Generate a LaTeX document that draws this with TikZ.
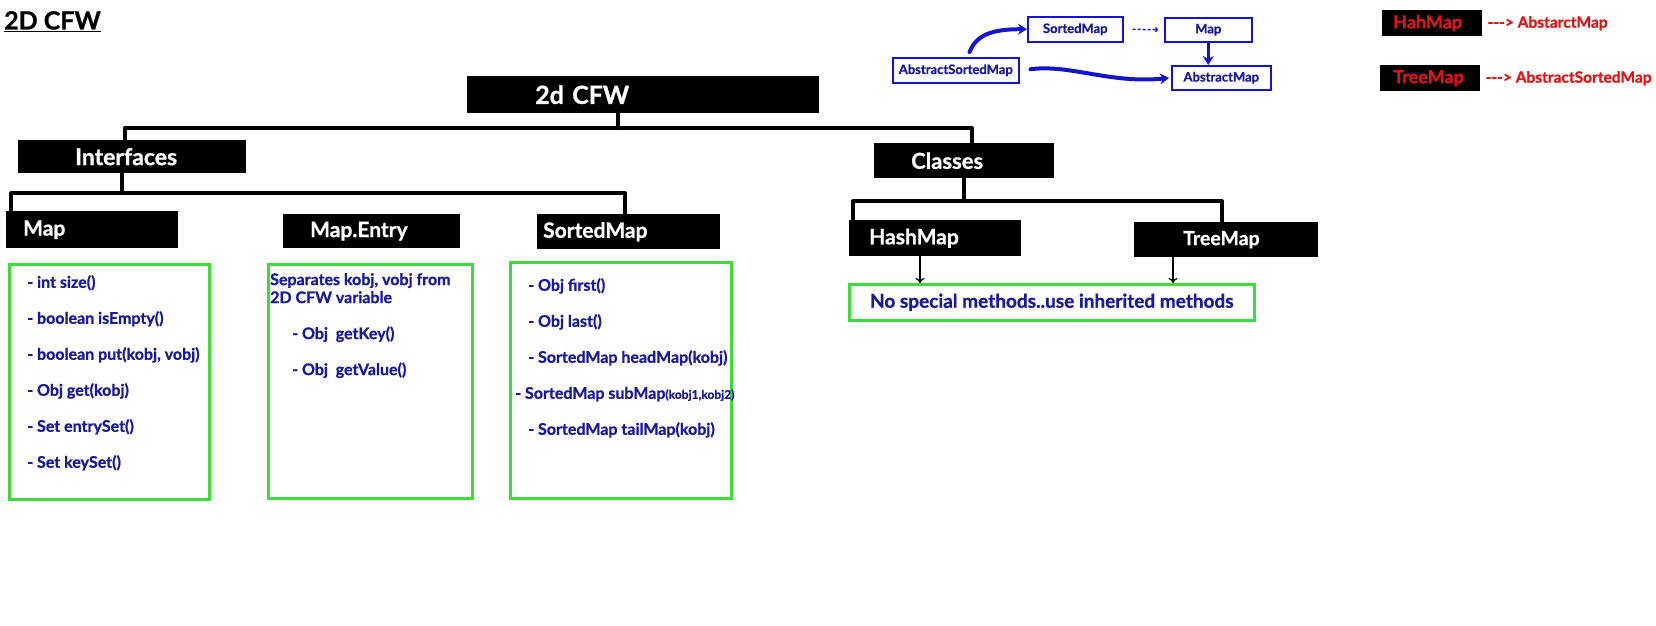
\documentclass[tikz,border=0pt]{standalone}
\usepackage{fontspec}
\setmainfont{Lato}[BoldFeatures={FakeBold=1}]
\usepackage{tikz}
\usetikzlibrary{arrows.meta,positioning,calc}
\definecolor{ink}{HTML}{1A1A9E}
\definecolor{frame}{HTML}{3CDC3C}
\definecolor{pen}{HTML}{1414CC}
\definecolor{warn}{HTML}{E01414}
\newcommand{\fs}[1]{\fontsize{#1}{#1}\selectfont}

\begin{document}
\begin{tikzpicture}[x=1pt, y=-1pt,
  blk/.style={fill=black, text=white, font=\bfseries\fs{21}, anchor=north west,
              inner ysep=0pt, align=left},
  methbox/.style={draw=frame, line width=2.5pt, anchor=north west, inner sep=0pt},
  meth/.style={text=ink, font=\bfseries\fontsize{16}{36}\selectfont, align=left, inner sep=0pt},
  tree/.style={line width=4pt, line join=round, line cap=round},
  pointer/.style={-{To[length=5pt,width=9pt]}, line width=1.2pt},
  mini/.style={draw=pen, line width=1.5pt, text=ink, font=\bfseries\fs{13}, anchor=north west, inner sep=0pt},
  hand/.style={draw=pen, line width=4pt, line cap=round, -{Stealth[length=9pt,width=11pt]}},
  legendtxt/.style={text=warn, font=\bfseries\fs{18}, inner sep=0pt}]

\useasboundingbox (0,0) rectangle (1656,625);

% title
\node[font=\bfseries\fs{25}, anchor=north west, inner sep=0pt] (title) at (4,11) {\underline{2D CFW}};

% root and first level
\node[blk, font=\bfseries\fs{25}, minimum height=37pt, inner xsep=68pt, text width=216pt] (cfw) at (467,76) {2d CFW};
\node[blk, font=\bfseries\fs{23}, minimum height=33pt, inner xsep=57pt, text width=114pt] (ifc) at (18,140) {Interfaces};
\node[blk, font=\bfseries\fs{22}, minimum height=35pt, inner xsep=37pt, text width=106pt] (cls) at (874,143) {Classes};

% interfaces
\node[blk, minimum height=37pt, inner xsep=17pt, text width=138pt] (map) at (6,211) {Map};
\node[blk, minimum height=34pt, inner xsep=27pt, text width=123pt] (entry) at (283,214) {Map.Entry};
\node[blk, minimum height=35pt, inner xsep=6pt, text width=171pt] (sorted) at (537,214) {SortedMap};

% classes
\node[blk, minimum height=36pt, inner xsep=20pt, text width=132pt] (hash) at (849,220) {HashMap};
\node[blk, font=\bfseries\fs{19.5}, minimum height=35pt, inner xsep=49pt, text width=86pt] (treem) at (1134,222) {TreeMap};

% method boxes
\node[methbox, minimum width=200pt, minimum height=235pt] (mapbox) at (8,263) {};
\node[methbox, minimum width=204pt, minimum height=234pt] (entrybox) at (267,263) {};
\node[methbox, minimum width=221pt, minimum height=236pt] (sortbox) at (509,261) {};
\node[methbox, minimum width=405pt, minimum height=36pt, text=ink, font=\bfseries\fs{19}] (banner) at (848,283) {No special methods..use inherited methods};

\node[meth, below right=12pt and 19pt of mapbox.north west] (maplist)
  {- int size()\\- boolean isEmpty()\\- boolean put(kobj, vobj)\\- Obj get(kobj)\\- Set entrySet()\\- Set keySet()};
\node[meth, font=\bfseries\fontsize{16}{18}\selectfont, below right=10pt and 3pt of entrybox.north west] (entrylist)
  {Separates kobj, vobj from\\2D CFW variable\\[18pt]\hspace*{22pt}- Obj~~getKey()\\[18pt]\hspace*{22pt}- Obj~~getValue()};
\node[meth, below right=17pt and 19pt of sortbox.north west] (sortlist)
  {- Obj first()\\- Obj last()\\- SortedMap headMap(kobj)\\\hspace*{-13pt}- SortedMap subMap{\fs{12}(kobj1,kobj2)}\\- SortedMap tailMap(kobj)};

% tree lines
\coordinate (cfwdrop) at (618,128);
\coordinate (ifcup) at (125,128);
\coordinate (clsup) at (972,128);
\coordinate (ifcdrop) at (122,193);
\coordinate (mapup) at (11,193);
\coordinate (sortup) at (625,193);
\coordinate (clsbus) at (964,201);
\coordinate (hashup) at (853,201);
\coordinate (treeup) at (1222,201);
\coordinate (hashptr) at (920,0);
\coordinate (treeptr) at (1173,0);

\draw[tree] (cfw.south -| cfwdrop) -- (cfwdrop);
\draw[tree] (ifc.north -| ifcup) -- (ifcup) -- (clsup) -- (cls.north -| clsup);
\draw[tree] (ifc.south -| ifcdrop) -- (ifcdrop);
\draw[tree] (map.north -| mapup) -- (mapup) -- (sortup) -- (sorted.north -| sortup);
\draw[tree] (cls.south) -- (cls.south |- clsbus);
\draw[tree] (hash.north -| hashup) -- (hashup) -- (treeup) -- (treem.north -| treeup);
\draw[pointer] (hash.south -| hashptr) -- (banner.north -| hashptr);
\draw[pointer] (treem.south -| treeptr) -- (banner.north -| treeptr);

% hierarchy sketch
\node[mini, minimum width=95pt, minimum height=25pt] (sm2) at (1027,16) {SortedMap};
\node[mini, minimum width=87pt, minimum height=24pt] (map2) at (1164,17) {Map};
\node[mini, minimum width=126pt, minimum height=25pt] (asm) at (892,57) {AbstractSortedMap};
\node[mini, minimum width=99pt, minimum height=24pt] (am) at (1171,65) {AbstractMap};

\draw[pen, line width=1.5pt, dash pattern=on 3pt off 2pt, -{To[length=3pt,width=5pt]},
      shorten <=9pt, shorten >=6pt] (sm2.east) -- (map2.west);
\draw[hand, line width=3.5pt] (map2.south) -- (am.north -| map2.south);
\draw[hand] ($(asm.north east)+(-50,-5)$) .. controls (976,36) and (990,29) .. (sm2.west);
\draw[hand, shorten >=2pt] ($(asm.east)+(11,-1)$) .. controls (1070,64) and (1110,84) .. (am.west);

% legend
\node[blk, legendtxt, minimum height=26pt, inner xsep=11pt, text width=78pt] (hah) at (1382,10) {HahMap};
\node[blk, legendtxt, minimum height=26pt, inner xsep=13pt, text width=74pt] (trm) at (1380,65) {TreeMap};
\node[legendtxt, font=\bfseries\fs{15.5}, right=5pt of hah] (hahnote) {-{}-{}-> AbstarctMap};
\node[legendtxt, font=\bfseries\fs{15.5}, right=5pt of trm] (trmnote) {-{}-{}-> AbstractSortedMap};
\end{tikzpicture}
\end{document}
